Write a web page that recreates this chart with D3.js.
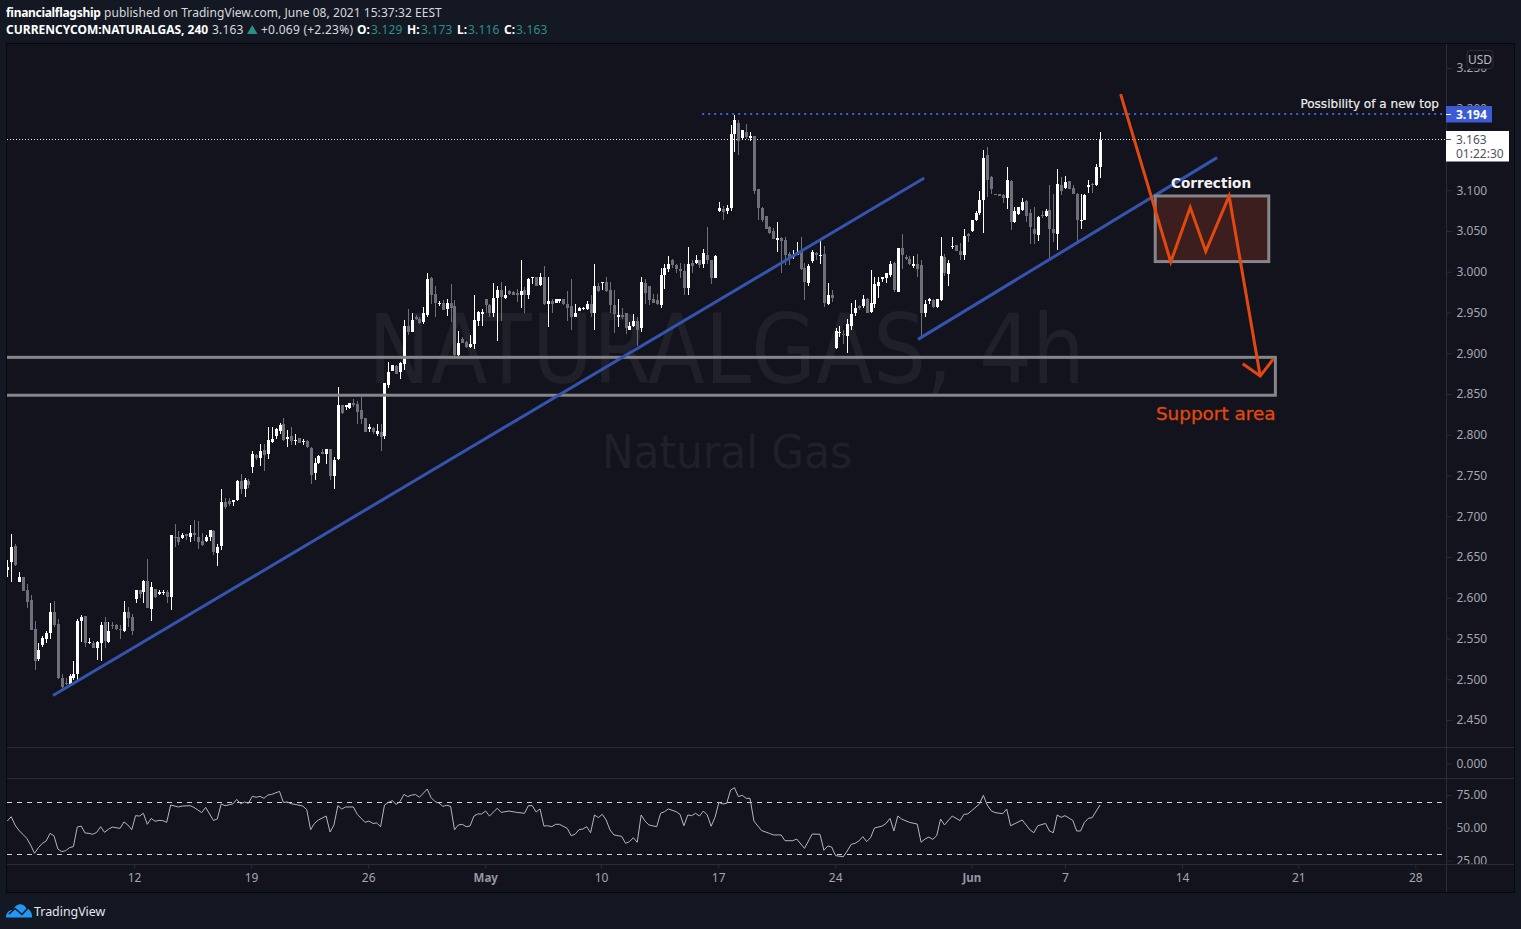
<!DOCTYPE html>
<html><head><meta charset="utf-8">
<style>
html,body{margin:0;padding:0;background:#141823;overflow:hidden}
svg{display:block}
</style>
<script src="https://cdn.jsdelivr.net/npm/d3@7"></script>
</head><body><svg id="c" width="1521" height="929" font-family="'Noto Sans',sans-serif"></svg>
<script>
const opens=[2.634,2.644,2.664,2.619,2.626,2.609,2.597,2.562,2.525,2.542,2.549,2.557,2.582,2.568,2.501,2.496,2.493,2.501,2.506,2.571,
2.577,2.545,2.545,2.538,2.545,2.570,2.546,2.567,2.566,2.562,2.559,2.582,2.576,2.598,2.609,2.607,2.621,2.586,2.611,2.604,
2.606,2.607,2.601,2.675,2.675,2.673,2.678,2.675,2.679,2.675,2.670,2.670,2.674,2.682,2.655,2.663,2.718,2.719,2.718,2.720,
2.743,2.733,2.743,2.761,2.775,2.771,2.781,2.776,2.791,2.799,2.804,2.813,2.795,2.798,2.792,2.796,2.791,2.792,2.784,2.753,
2.765,2.779,2.776,2.783,2.749,2.770,2.836,2.834,2.833,2.839,2.838,2.830,2.820,2.807,2.808,2.801,2.803,2.798,2.861,2.878,
2.884,2.877,2.887,2.934,2.926,2.945,2.942,2.938,2.947,2.992,2.973,2.961,2.962,2.954,2.962,2.958,2.898,2.918,2.914,2.908,
2.911,2.940,2.948,2.966,2.959,2.949,2.968,2.977,2.968,2.976,2.975,2.974,2.971,2.977,2.971,2.992,2.994,2.984,2.993,2.960,
2.964,2.962,2.964,2.966,2.961,2.958,2.945,2.952,2.954,2.954,2.961,2.949,2.982,2.986,2.988,2.978,2.959,2.945,2.947,2.949,
2.929,2.933,2.939,2.931,2.986,2.982,2.966,2.965,2.959,2.996,3.003,3.015,3.008,3.003,3.001,2.980,3.011,3.011,3.014,3.010,
3.021,3.015,2.992,3.075,3.077,3.074,3.078,3.169,3.183,3.164,3.172,3.164,3.167,3.101,3.078,3.068,3.055,3.050,3.039,3.041,
3.039,3.022,3.018,3.021,3.024,3.004,2.986,3.013,3.023,3.019,3.022,2.960,2.971,2.906,2.925,2.924,2.921,2.934,2.949,2.958,
2.958,2.966,2.951,2.960,2.982,2.991,2.992,2.996,3.011,2.975,3.029,3.018,3.016,3.007,3.009,3.008,2.949,2.964,2.965,2.957,
2.965,3.018,2.997,3.030,3.033,3.025,3.020,3.046,3.050,3.063,3.072,3.088,3.143,3.116,3.096,3.095,3.094,3.091,3.111,3.061,
3.071,3.076,3.087,3.072,3.053,3.045,3.070,3.068,3.076,3.053,3.046,3.107,3.103,3.111,3.103,3.095,3.063,3.063,3.104,3.108,
3.107,3.128];
const highs=[2.646,2.678,2.666,2.632,2.626,2.617,2.603,2.572,2.544,2.553,2.559,2.593,2.596,2.574,2.507,2.501,2.506,2.523,2.574,2.579,
2.578,2.551,2.547,2.547,2.570,2.576,2.570,2.570,2.568,2.566,2.596,2.589,2.580,2.610,2.609,2.622,2.647,2.619,2.611,2.609,
2.610,2.610,2.677,2.690,2.682,2.679,2.678,2.689,2.695,2.694,2.679,2.677,2.683,2.683,2.666,2.734,2.722,2.723,2.720,2.745,
2.752,2.747,2.746,2.780,2.776,2.789,2.789,2.809,2.810,2.808,2.814,2.820,2.806,2.810,2.801,2.796,2.795,2.793,2.785,2.771,
2.775,2.783,2.783,2.783,2.773,2.859,2.837,2.837,2.839,2.844,2.842,2.846,2.820,2.813,2.810,2.813,2.813,2.863,2.889,2.885,
2.885,2.889,2.941,2.954,2.950,2.947,2.945,2.957,2.998,2.994,2.982,2.964,2.965,2.966,2.985,2.965,2.927,2.920,2.915,2.923,
2.972,2.952,2.954,2.967,2.961,2.986,2.982,2.987,2.983,2.977,2.976,2.979,3.015,2.981,2.992,2.994,2.994,2.998,3.007,2.993,
2.966,2.967,2.967,2.967,2.976,2.991,2.961,2.957,2.957,2.964,2.972,3.009,2.986,2.988,2.994,2.987,2.977,2.966,2.955,2.949,
2.938,2.948,2.945,2.993,2.991,2.982,2.973,2.973,3.005,3.010,3.019,3.016,3.010,3.011,3.010,3.030,3.014,3.021,3.015,3.028,
3.055,3.015,3.020,3.085,3.081,3.082,3.180,3.192,3.186,3.174,3.181,3.172,3.167,3.102,3.079,3.068,3.056,3.054,3.061,3.043,
3.043,3.024,3.027,3.036,3.043,3.011,3.009,3.027,3.024,3.038,3.031,2.986,2.977,2.931,2.934,2.929,2.942,2.962,2.965,2.959,
2.971,2.968,3.002,2.993,2.993,2.993,2.999,3.013,3.012,3.029,3.046,3.021,3.019,3.019,3.022,3.015,2.965,2.968,2.966,2.967,
3.043,3.022,3.014,3.043,3.033,3.035,3.053,3.048,3.064,3.075,3.099,3.149,3.153,3.118,3.096,3.095,3.095,3.128,3.112,3.080,
3.079,3.091,3.088,3.077,3.080,3.068,3.074,3.077,3.107,3.096,3.126,3.116,3.117,3.111,3.106,3.097,3.095,3.096,3.112,3.109,
3.132,3.172];
const lows=[2.625,2.619,2.639,2.619,2.608,2.587,2.560,2.511,2.522,2.540,2.544,2.549,2.564,2.500,2.486,2.493,2.492,2.499,2.499,2.546,
2.540,2.543,2.538,2.524,2.522,2.538,2.544,2.562,2.560,2.549,2.558,2.564,2.554,2.593,2.600,2.593,2.587,2.571,2.600,2.603,
2.603,2.593,2.585,2.662,2.665,2.672,2.671,2.668,2.670,2.660,2.663,2.668,2.670,2.652,2.639,2.658,2.709,2.712,2.712,2.719,
2.727,2.724,2.735,2.753,2.769,2.762,2.756,2.770,2.790,2.795,2.801,2.792,2.785,2.787,2.787,2.790,2.788,2.784,2.739,2.745,
2.764,2.776,2.764,2.745,2.733,2.769,2.825,2.830,2.832,2.834,2.813,2.813,2.803,2.803,2.801,2.799,2.780,2.795,2.857,2.878,
2.874,2.869,2.879,2.923,2.926,2.941,2.936,2.936,2.945,2.960,2.945,2.958,2.953,2.946,2.938,2.896,2.896,2.912,2.906,2.907,
2.905,2.934,2.934,2.949,2.945,2.945,2.915,2.940,2.966,2.972,2.971,2.963,2.956,2.949,2.967,2.985,2.982,2.982,2.959,2.932,
2.949,2.962,2.962,2.959,2.940,2.928,2.945,2.952,2.953,2.953,2.945,2.928,2.975,2.978,2.975,2.949,2.925,2.932,2.942,2.924,
2.928,2.932,2.909,2.926,2.961,2.959,2.962,2.959,2.956,2.979,3.000,3.004,2.998,2.992,2.971,2.972,2.999,3.010,3.005,3.004,
3.010,2.985,2.992,3.073,3.063,3.071,3.074,3.147,3.143,3.162,3.163,3.160,3.096,3.064,3.061,3.052,3.046,3.040,3.024,2.998,
3.008,3.008,3.016,3.020,3.002,2.965,2.982,3.011,3.014,3.009,2.957,2.959,2.963,2.905,2.920,2.911,2.900,2.928,2.946,2.953,
2.955,2.949,2.950,2.955,2.968,2.987,2.986,2.993,2.975,2.975,3.003,3.015,3.008,3.005,2.994,2.917,2.945,2.960,2.956,2.955,
2.964,2.995,2.982,3.028,3.025,3.015,3.014,3.036,3.049,3.062,3.070,3.047,3.092,3.095,3.094,3.093,3.084,3.077,3.051,3.060,
3.070,3.075,3.061,3.034,3.034,3.038,3.066,3.067,3.016,3.037,3.027,3.094,3.102,3.101,3.095,3.038,3.053,3.063,3.097,3.097,
3.105,3.115];
const closes=[2.638,2.662,2.640,2.625,2.608,2.595,2.560,2.523,2.536,2.551,2.557,2.582,2.567,2.502,2.491,2.494,2.504,2.507,2.571,2.576,
2.544,2.546,2.538,2.546,2.567,2.547,2.559,2.565,2.562,2.560,2.582,2.575,2.559,2.609,2.605,2.620,2.587,2.613,2.601,2.607,
2.607,2.601,2.677,2.673,2.669,2.677,2.676,2.680,2.677,2.669,2.665,2.675,2.683,2.656,2.662,2.718,2.711,2.715,2.720,2.743,
2.733,2.744,2.738,2.776,2.771,2.780,2.775,2.793,2.795,2.807,2.812,2.793,2.797,2.792,2.793,2.790,2.792,2.785,2.751,2.765,
2.774,2.776,2.783,2.749,2.769,2.837,2.827,2.836,2.839,2.836,2.828,2.819,2.803,2.810,2.803,2.805,2.797,2.863,2.877,2.885,
2.875,2.888,2.934,2.926,2.941,2.942,2.937,2.949,2.991,2.971,2.962,2.962,2.953,2.962,2.956,2.898,2.912,2.913,2.908,2.911,
2.941,2.951,2.951,2.959,2.949,2.968,2.977,2.969,2.971,2.973,2.972,2.972,2.976,2.971,2.991,2.993,2.982,2.993,2.960,2.964,
2.960,2.966,2.966,2.960,2.955,2.945,2.949,2.956,2.956,2.960,2.949,2.983,2.976,2.987,2.976,2.959,2.948,2.947,2.944,2.931,
2.934,2.939,2.928,2.987,2.974,2.965,2.962,2.960,2.996,3.004,3.010,3.008,3.003,3.001,2.980,3.009,3.007,3.015,3.008,3.023,
3.014,2.992,3.019,3.078,3.073,3.078,3.169,3.186,3.161,3.174,3.165,3.166,3.099,3.078,3.063,3.052,3.047,3.040,3.042,3.038,
3.020,3.018,3.021,3.024,3.003,2.987,3.007,3.024,3.021,3.021,2.962,2.972,2.968,2.927,2.926,2.922,2.936,2.948,2.955,2.956,
2.967,2.949,2.962,2.985,2.988,2.993,2.998,3.010,2.977,3.029,3.020,3.016,3.009,3.010,3.003,2.949,2.961,2.966,2.957,2.966,
3.019,2.998,3.011,3.032,3.025,3.020,3.044,3.044,3.063,3.072,3.088,3.140,3.113,3.101,3.094,3.093,3.090,3.112,3.061,3.074,
3.079,3.085,3.069,3.055,3.046,3.067,3.068,3.075,3.052,3.047,3.108,3.099,3.110,3.101,3.095,3.063,3.064,3.094,3.107,3.106,
3.129,3.162];
const rsiBars=[0,1,2,3,4,5,6,7,8,9,10,11,12,13,14,15,16,17,18,19,20,21,22,23,24,25,26,27,29,30,31,32,33,34,35,36,37,38,39,40,41,42,44,45,47,48,50,51,53,54,55,56,58,59,60,61,62,63,64,65,66,67,68,70,71,72,73,74,76,77,78,79,80,82,83,84,85,86,87,89,90,92,93,94,95,96,97,98,99,100,101,102,103,104,105,106,108,109,110,111,112,113,114,115,116,117,118,119,120,121,122,123,124,126,127,129,131,133,134,135,136,137,138,139,140,141,142,144,145,146,147,148,149,150,151,152,153,154,155,156,158,159,160,161,162,163,164,165,167,168,169,170,172,173,174,175,176,177,178,179,180,181,182,183,184,185,186,187,188,189,190,191,192,193,194,196,197,199,200,202,203,205,207,209,210,211,212,213,215,216,217,218,219,220,221,222,223,225,226,227,228,229,230,232,234,235,236,237,238,239,240,241,243,245,246,247,248,250,251,252,253,254,256,257,258,261,263,264,265,267,268,269,270,271,272,274,275,276,277,278,279,281];
const rsiValues=[55.5,58.8,52.5,48.4,45.4,42.3,37.2,30.9,35.2,38.5,40.3,46.1,44.3,34.2,32.2,32.9,35.2,36.0,50.9,51.7,46.4,46.1,45.4,46.9,51.2,46.9,49.2,50.9,49.9,54.8,52.5,48.9,59.6,59.3,61.4,53.0,57.5,55.3,56.0,55.8,54.5,67.7,66.2,66.9,67.2,65.9,61.9,65.9,56.0,57.0,68.5,67.2,68.5,72.0,68.7,70.0,69.0,74.3,73.6,74.3,72.8,75.3,75.8,78.1,69.7,70.0,68.7,68.2,66.9,64.2,48.9,53.7,56.3,59.3,47.1,52.5,67.2,64.6,66.2,66.2,60.6,54.5,55.5,53.7,54.0,51.2,67.7,69.7,71.0,68.2,70.3,75.8,74.1,75.3,75.6,73.6,79.9,73.3,70.3,69.2,66.7,67.5,66.7,48.9,52.5,53.0,51.2,51.7,59.3,60.9,60.9,63.1,59.3,65.2,62.1,63.1,62.1,61.4,67.2,67.2,62.4,64.7,51.7,51.9,51.2,53.0,53.0,49.9,44.3,45.4,48.9,49.4,51.2,46.6,60.1,58.1,60.6,56.3,48.7,44.9,43.8,38.5,39.8,42.8,39.3,60.1,55.5,52.5,51.2,61.4,62.6,64.7,62.6,60.6,51.9,60.1,59.6,61.4,59.3,63.1,60.1,51.5,58.3,69.7,68.5,69.0,79.1,80.9,74.1,75.1,72.8,72.8,55.5,51.7,48.2,46.1,44.9,44.9,40.5,40.5,41.8,34.7,45.6,45.4,33.2,36.5,35.7,29.1,28.3,32.7,37.7,38.5,40.3,43.6,39.8,42.8,50.2,51.7,53.7,57.5,47.9,59.3,57.0,54.5,53.2,39.3,41.8,43.3,41.5,44.3,57.0,52.5,59.3,55.8,60.6,60.9,63.4,68.5,75.1,67.7,63.4,61.9,61.1,64.7,51.9,56.3,48.7,46.6,51.9,53.7,47.9,46.6,60.1,58.3,59.6,56.0,47.9,47.9,54.5,57.5,58.1,67.7];
const priceTicks=[2.45,2.5,2.55,2.6,2.65,2.7,2.75,2.8,2.85,2.9,2.95,3.0,3.05,3.1,3.2,3.25];
const rsiTicks=[25,50,75];
const rsiBands=[30,70];
const volumeTicks=[0];
const timeTickBars=[32.6,62.7,92.8,122.9,152.7,182.8,212.9,247.9,272,302.1,332,362.1];
const timeTickLabels=["12","19","26","May","10","17","24","Jun","7","14","21","28"];
const trendBars=[[11.75,235.8],[234.2,311.1]];
const trendPrices=[[2.48,3.115],[2.917,3.14]];
const lastPrice=3.163, topPrice=3.194, topStartBar=178.7;
const zoneBars=[-1,326.1], zonePrices=[2.895,2.8485];
const correctionBars=[295.2,324.4], correctionPrices=[3.093,3.0125];
const pathBars=[286.3,299.2,304.2,308.2,314.2,322.2];
const pathPrices=[3.218,3.012,3.079,3.025,3.093,2.872];
const headBars=[317.7,322.2,325.6];
const headPrices=[2.887,2.872,2.893];

const BG="#12131d",LINE="#2a2c37",AX="#a3a6af",GRAY="#6e7079",WHITE="#ffffff",BLUE="#3454ae",ORANGE="#e2480f",ZONE="#85858a";
const W=1521,H=929,L=7,R=1446,T=44,PB=747,RT=778,RB=864,FB=892,FR=1514;
const x=d3.scaleLinear().domain([0,281]).range([7.3,1100]);
const y=d3.scaleLinear().domain([2.45,3.1]).range([720,190.25]);
const ry=d3.scaleLinear().domain([25,75]).range([861.06,795.44]);
const vy=d3.scaleLinear().domain([0,1]).range([763.5,740]);
const svg=d3.select("#c");
svg.append("rect").attr("width",W).attr("height",H).attr("fill","#141823");
svg.append("rect").attr("x",6.5).attr("y",43.5).attr("width",FR-6).attr("height",FB-43).attr("fill",BG).attr("stroke","#07080c");
const defs=svg.append("defs");
defs.append("clipPath").attr("id","main").append("rect").attr("x",L).attr("y",T).attr("width",R-L).attr("height",PB-T);
defs.append("clipPath").attr("id","rsi").append("rect").attr("x",L).attr("y",RT).attr("width",R-L).attr("height",RB-RT);
defs.append("clipPath").attr("id","rsiax").append("rect").attr("x",R).attr("y",RT+1).attr("width",FR-R).attr("height",RB-RT-1);

// watermark
const wm=svg.append("g").attr("fill","#1f2029").attr("text-anchor","middle").attr("font-family","'DejaVu Sans'").attr("lengthAdjust","spacingAndGlyphs");
wm.append("text").attr("x",726.5).attr("y",383).attr("font-size",96).attr("textLength",717).attr("lengthAdjust","spacingAndGlyphs").text("NATURALGAS, 4h");
wm.append("text").attr("x",727).attr("y",468).attr("font-size",46).attr("textLength",250).attr("lengthAdjust","spacingAndGlyphs").text("Natural Gas");

// separators
const seps=svg.append("g").attr("stroke",LINE).attr("shape-rendering","crispEdges");
[PB,RT,RB].forEach(v=>seps.append("line").attr("x1",L).attr("x2",FR).attr("y1",v+.5).attr("y2",v+.5));
seps.append("line").attr("x1",R+.5).attr("x2",R+.5).attr("y1",T).attr("y2",FB);

// axes
function style(g){g.select(".domain").remove();g.selectAll("line").attr("stroke",LINE);g.selectAll("text").attr("fill",AX).attr("font-size",12).attr("font-family","'Noto Sans'");}
svg.append("g").attr("transform",`translate(${R+.5},0)`).call(d3.axisRight(y).tickValues(priceTicks).tickFormat(d3.format(".3f")).tickSize(5).tickPadding(5)).call(style);
svg.append("g").attr("transform",`translate(${R+.5},0)`).call(d3.axisRight(vy).tickValues(volumeTicks).tickFormat(d3.format(".3f")).tickSize(5).tickPadding(5)).call(style);
svg.append("g").attr("clip-path","url(#rsiax)").append("g").attr("transform",`translate(${R+.5},-0.5)`).call(d3.axisRight(ry).tickValues(rsiTicks).tickFormat(d3.format(".2f")).tickSize(5).tickPadding(5)).call(style);
const tAxis=d3.axisBottom(x).tickValues(timeTickBars).tickFormat((d,i)=>timeTickLabels[i]).tickSize(4).tickPadding(5);
svg.append("g").attr("transform",`translate(0,${RB+.5})`).call(tAxis).call(style)
  .selectAll("text").attr("font-weight",(d,i)=>/[A-Z]/.test(timeTickLabels[i])?700:400)
  .attr("font-size",(d,i)=>/[A-Z]/.test(timeTickLabels[i])?11.5:12)
  .attr("fill",(d,i)=>/[A-Z]/.test(timeTickLabels[i])?"#9598a1":AX);

const main=svg.append("g").attr("clip-path","url(#main)");
// last price dotted
main.append("line").attr("x1",L).attr("x2",R).attr("y1",139.5).attr("y2",139.5).attr("stroke","#e8e8ec").attr("stroke-width",1).attr("stroke-dasharray","1 2");

// candles
const idx=d3.range(opens.length);
const cg=main.append("g").attr("shape-rendering","crispEdges");
const col=i=>closes[i]>=opens[i]?WHITE:GRAY;
cg.selectAll(".w").data(idx).join("rect").attr("class","w")
  .attr("x",i=>Math.round(x(i))).attr("width",1)
  .attr("y",i=>y(highs[i])).attr("height",i=>y(lows[i])-y(highs[i])).attr("fill",col);
cg.selectAll(".b").data(idx).join("rect").attr("class","b")
  .attr("x",i=>Math.round(x(i))-1).attr("width",3)
  .attr("y",i=>y(Math.max(opens[i],closes[i])))
  .attr("height",i=>Math.max(1,y(Math.min(opens[i],closes[i]))-y(Math.max(opens[i],closes[i]))))
  .attr("fill",col).attr("stroke","none");

// support zone
main.append("rect").attr("x",x(zoneBars[0])).attr("width",x(zoneBars[1])-x(zoneBars[0]))
 .attr("y",y(zonePrices[0])).attr("height",y(zonePrices[1])-y(zonePrices[0]))
 .attr("fill","none").attr("stroke",ZONE).attr("stroke-width",3);
// trend lines
trendBars.forEach((b,k)=>main.append("line").attr("x1",x(b[0])).attr("x2",x(b[1]))
 .attr("y1",y(trendPrices[k][0])).attr("y2",y(trendPrices[k][1])).attr("stroke",BLUE).attr("stroke-width",3));
// top line
main.append("line").attr("x1",x(topStartBar)).attr("x2",R).attr("y1",114).attr("y2",114)
 .attr("stroke","#3a62d8").attr("stroke-width",2).attr("stroke-dasharray","2 4");
// correction box
main.append("rect").attr("x",x(correctionBars[0])).attr("width",x(correctionBars[1])-x(correctionBars[0]))
 .attr("y",y(correctionPrices[0])).attr("height",y(correctionPrices[1])-y(correctionPrices[0]))
 .attr("fill","#3c1e1e").attr("stroke",ZONE).attr("stroke-width",3);
// orange path
const ln=d3.line().x(d=>x(d[0])).y(d=>y(d[1]));
main.append("path").attr("d",ln(d3.zip(pathBars,pathPrices))).attr("fill","none").attr("stroke",ORANGE).attr("stroke-width",3);
main.append("path").attr("d",ln(d3.zip(headBars,headPrices))).attr("fill","none").attr("stroke",ORANGE).attr("stroke-width",3);

// annotations
const an=main.append("g").attr("font-family","'DejaVu Sans'");
an.append("text").attr("x",1211).attr("y",188).attr("text-anchor","middle").attr("font-weight",700).attr("font-size",13.6).attr("fill","#f2f2f2").text("Correction");
an.append("text").attr("x",1439).attr("y",108).attr("text-anchor","end").attr("font-size",12.05).attr("fill","#ececec").attr("stroke","#ececec").attr("stroke-width",.2).text("Possibility of a new top");
an.append("text").attr("x",1275.5).attr("y",420).attr("text-anchor","end").attr("font-size",18.4).attr("fill",ORANGE).attr("stroke",ORANGE).attr("stroke-width",.3).text("Support area");

// RSI
const rp=svg.append("g").attr("clip-path","url(#rsi)");
rsiBands.forEach(v=>rp.append("line").attr("x1",L).attr("x2",R-3).attr("y1",Math.round(ry(v))+.5).attr("y2",Math.round(ry(v))+.5).attr("stroke","#d2d3d8").attr("stroke-dasharray","5 5"));
const rl=d3.line().x((d,i)=>x(rsiBars[i])).y(d=>ry(d));
rp.append("path").attr("d",rl(rsiValues)).attr("fill","none").attr("stroke","#b4b5bb").attr("stroke-width",1);

// price labels
const lb=svg.append("g");
lb.append("rect").attr("x",1467).attr("y",50.5).attr("width",26).attr("height",18).attr("rx",3).attr("fill",BG).attr("stroke","#2a2c37");
lb.append("text").attr("x",1480).attr("y",64).attr("text-anchor","middle").attr("font-size",12).attr("fill","#b8bbc3").text("USD");
lb.append("rect").attr("x",R).attr("y",106).attr("width",46).attr("height",16.5).attr("fill","#3d5bd6");
lb.append("line").attr("x1",R).attr("x2",R+5).attr("y1",114.5).attr("y2",114.5).attr("stroke","#fff");
lb.append("text").attr("x",1456).attr("y",119).attr("font-size",12).attr("font-weight",700).attr("fill","#fff").text(d3.format(".3f")(topPrice));
lb.append("rect").attr("x",R).attr("y",131).attr("width",63).attr("height",30.5).attr("fill","#fff");
lb.append("line").attr("x1",R).attr("x2",R+5).attr("y1",139.5).attr("y2",139.5).attr("stroke","#555");
lb.append("text").attr("x",1456).attr("y",144).attr("font-size",12).attr("fill","#50535e").text(d3.format(".3f")(lastPrice));
lb.append("text").attr("x",1456).attr("y",158).attr("font-size",12).attr("fill","#50535e").text("01:22:30");

// header
const C="#d6d8de",G="#2a9085",BW="#fff";
const hdr=svg.append("g").attr("font-size",12);
const tx=(px,py,s,f,b,sp)=>hdr.append("text").attr("x",px).attr("y",py).attr("fill",f).attr("font-weight",b?700:400).attr("letter-spacing",sp||0).text(s);
tx(6,17,"financialflagship",BW,true,-0.3);
tx(104,17,"published on TradingView.com, June 08, 2021 15:37:32 EEST",C,false,0.05);
tx(6,34,"CURRENCYCOM:NATURALGAS, 240",BW,true);
tx(212,34,"3.163",C,false,0.2);
hdr.append("path").attr("d","M247 34L257.5 34L252.25 25Z").attr("fill",G);
tx(261,34,"+0.069 (+2.23%)",C,false,0.25);
[["O:",357,"3.129",371],["H:",407,"3.173",421],["L:",457,"3.116",468],["C:",504,"3.163",516]].forEach(p=>{
  tx(p[1],34,p[0],BW,true);
  tx(p[3],34,p[2],G,false,0.2);
});

// logo
const lg=svg.append("g");
lg.append("path").attr("d","M6 917.5C6 912.5 9 910 13 910C15 904 23 901.5 26 908C30 909 32.5 913 32 917.5Z").attr("fill","#2196f3");
lg.append("path").attr("d","M9 914L15 908.5L22 914.5L28 908").attr("fill","none").attr("stroke","#141823").attr("stroke-width",1.6);
svg.append("text").attr("x",34).attr("y",915.5).attr("font-size",12.4).attr("fill","#e4e6eb").text("TradingView");
</script></body></html>
